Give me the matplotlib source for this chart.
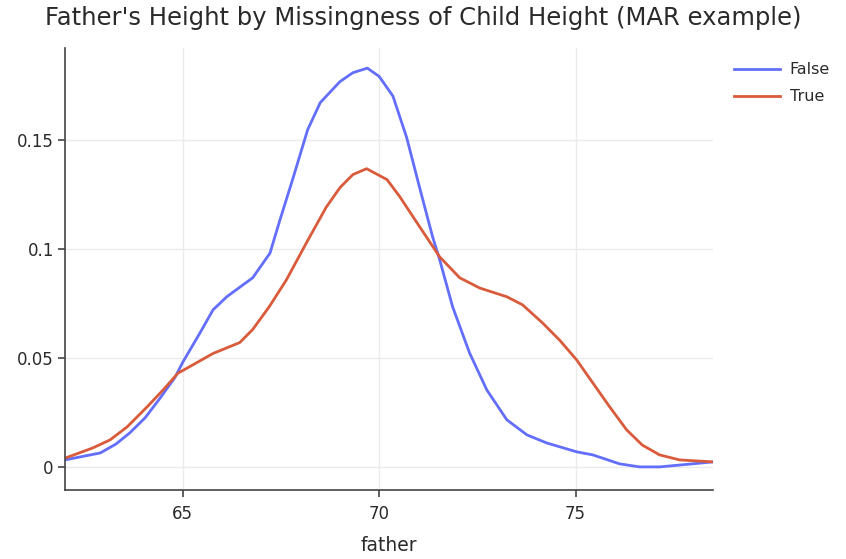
import matplotlib.pyplot as plt
from matplotlib.ticker import FixedLocator

plt.rcParams['font.family'] = ['DejaVu Sans']

# density estimate values
false_x = [62.0, 62.9, 63.3, 63.65, 64.04, 64.4, 64.8, 65.0, 65.44, 65.77, 66.12,
           66.78, 67.22, 67.47, 67.8, 68.18, 68.5, 69.0, 69.33, 69.7, 70.0, 70.35,
           70.7, 71.03, 71.36, 71.54, 71.87, 72.3, 72.74, 73.25, 73.76, 74.26,
           75.03, 75.44, 76.12, 76.63, 77.14, 77.98, 78.5]
false_y = [0.0032, 0.0064, 0.0105, 0.0156, 0.0225, 0.031, 0.041, 0.048, 0.0615,
           0.072, 0.078, 0.0867, 0.098, 0.113, 0.132, 0.1546, 0.167, 0.1766, 0.1807,
           0.1828, 0.179, 0.170, 0.151, 0.128, 0.1055, 0.095, 0.0734, 0.0523, 0.0353,
           0.0216, 0.0147, 0.011, 0.0069, 0.0055, 0.0014, 0.0, 0.0, 0.0014, 0.0023]

true_x = [62.0, 62.71, 63.15, 63.58, 64.09, 64.5, 64.88, 65.18, 65.77, 66.45, 66.78,
          67.2, 67.64, 68.15, 68.65, 69.0, 69.33, 69.68, 70.2, 70.52, 70.96, 71.54,
          72.05, 72.56, 73.25, 73.65, 74.16, 74.6, 75.03, 75.44, 75.87, 76.3, 76.7,
          77.14, 77.65, 78.5]
true_y = [0.004, 0.0087, 0.0124, 0.0183, 0.0275, 0.0353, 0.043, 0.046, 0.052, 0.057,
          0.063, 0.0734, 0.0858, 0.1028, 0.119, 0.128, 0.134, 0.1367, 0.1317, 0.124,
          0.112, 0.0963, 0.0867, 0.082, 0.078, 0.0743, 0.066, 0.058, 0.049, 0.0385,
          0.0275, 0.017, 0.010, 0.0055, 0.0032, 0.0023]

y_ticks = [0, 0.05, 0.1, 0.15]
y_labels = ['0', '0.05', '0.1', '0.15']
x_ticks = [65, 70, 75]

blue = '#636efa'
red = '#d95b3b'

fig = plt.figure(figsize=(8.46, 5.59), dpi=100)
ax = fig.add_axes([0.0768, 0.1234, 0.766, 0.7906])

ax.plot(false_x, false_y, color=blue, linewidth=2, label='False')
ax.plot(true_x, true_y, color=red, linewidth=2, label='True')

ax.set_xlim(62.0, 78.5)
ax.set_ylim(-0.0106, 0.192)
ax.yaxis.set_major_locator(FixedLocator(y_ticks))
ax.set_yticklabels(y_labels)
ax.xaxis.set_major_locator(FixedLocator(x_ticks))

ax.grid(True, color='#ebebeb', linewidth=1)
ax.set_axisbelow(True)
for s in ['top', 'right']:
    ax.spines[s].set_visible(False)
for s in ['left', 'bottom']:
    ax.spines[s].set_color('#444444')
    ax.spines[s].set_linewidth(1.2)
ax.tick_params(axis='both', colors='#444444', labelsize=12, length=5, width=1.2)
ax.tick_params(axis='x', pad=6)
ax.tick_params(axis='y', pad=3)
for lbl in ax.get_xticklabels() + ax.get_yticklabels():
    lbl.set_color('#2a2a2a')

ax.set_xlabel('father', fontsize=13.5, color='#2a2a2a', labelpad=9)

fig.text(0.5, 0.967, "Father's Height by Missingness of Child Height (MAR example)",
         ha='center', va='center', fontsize=17.5, color='#2a2a2a')

leg = ax.legend(loc='upper left', bbox_to_anchor=(1.01, 1.0), frameon=False,
                fontsize=11.5, handlelength=2.9, handletextpad=0.6, labelspacing=0.75)
for t in leg.get_texts():
    t.set_color('#2a2a2a')

fig.savefig('out.png', dpi=100, facecolor='white')
